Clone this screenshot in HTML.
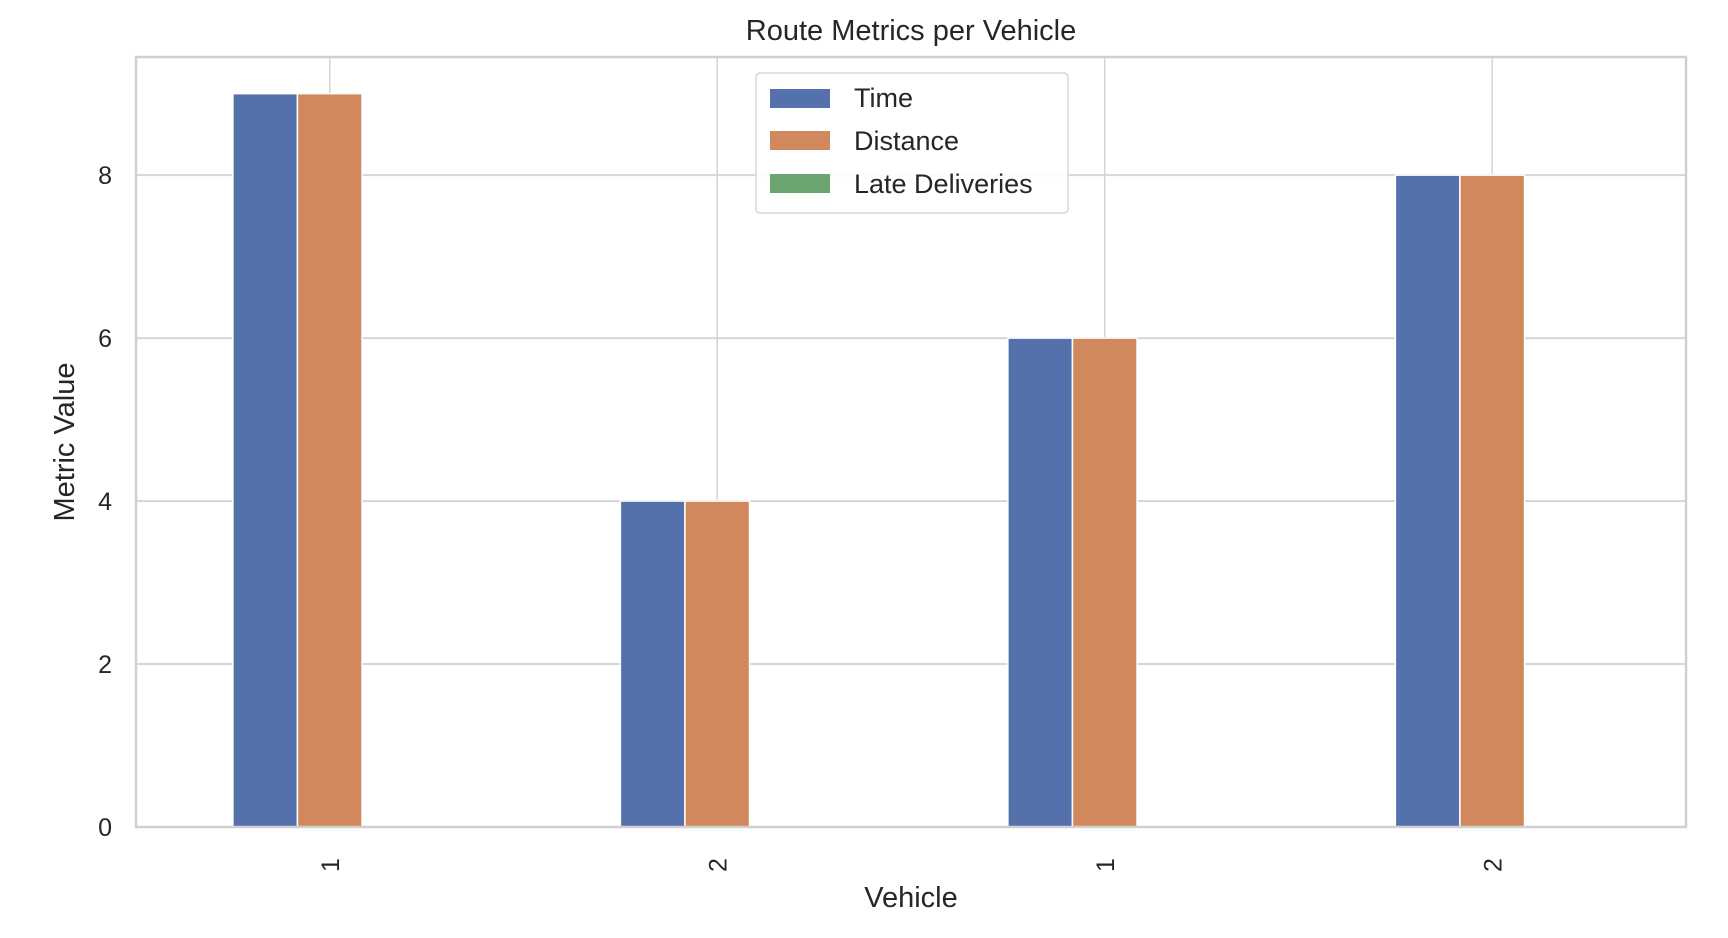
<!DOCTYPE html>
<html><head><meta charset="utf-8"><style>
html,body{margin:0;padding:0;background:#fff;}
svg{display:block;font-family:"Liberation Sans",Arial,sans-serif;}
</style></head><body>
<svg id="chart" width="1728" height="938">
<g id="grid"></g><g id="bars"></g><g id="axes"></g>
<text x="911" y="40" text-anchor="middle" font-size="29" fill="#262626">Route Metrics per Vehicle</text>
<text x="911" y="907" text-anchor="middle" font-size="29" fill="#262626">Vehicle</text>
<text transform="translate(74,442) rotate(-90)" text-anchor="middle" font-size="29" fill="#262626">Metric Value</text>
<g>
<rect x="756" y="73" width="312" height="140" rx="4" fill="#fff" fill-opacity="0.9" stroke="#d8d8d8" stroke-width="1.5"/>
<rect x="770" y="89" width="60" height="19" fill="#5471ab"/>
<text x="854" y="107" font-size="27" fill="#262626">Time</text>
<rect x="770" y="131" width="60" height="19" fill="#d1885c"/>
<text x="854" y="150" font-size="27" fill="#262626">Distance</text>
<rect x="770" y="174" width="60" height="19" fill="#6aa56e"/>
<text x="854" y="193" font-size="27" fill="#262626">Late Deliveries</text>
</g>
</svg>
<script>
const categories = ["1","2","1","2"];
const timeValues = [9,4,6,8];
const distanceValues = [9,4,6,8];
const lateValues = [0,0,0,0];
const yTicks = [0,2,4,6,8];
const seriesNames = ["Time","Distance","Late Deliveries"];
const colors = ["#5471ab","#d1885c","#6aa56e"];

const L=136,R=1686,T=57,B=827,yMax=9.45;
const NS="http://www.w3.org/2000/svg";
const gGrid=document.getElementById('grid'),gBars=document.getElementById('bars'),gAxes=document.getElementById('axes');
function y(v){return B-(v/yMax)*(B-T);}
function x(i){return L+(i+0.5)*(R-L)/categories.length;}
function mk(tag,attrs,parent){const e=document.createElementNS(NS,tag);for(const k in attrs)e.setAttribute(k,attrs[k]);parent.appendChild(e);return e;}


mk('rect',{x:L,y:T,width:R-L,height:B-T,fill:'#fff'},gGrid);
yTicks.forEach(t=>{
  const ln=mk('line',{x1:L,x2:R,y1:y(t),y2:y(t),stroke:'#d5d5d5','stroke-width':2},gGrid);
  
  
  const tx=mk('text',{x:L-24,y:y(t)+9,'text-anchor':'end','font-size':25,fill:'#262626'},gAxes);
  tx.textContent=t;
  
  
});
categories.forEach((c,i)=>{
  const ln=mk('line',{x1:x(i),x2:x(i),y1:T,y2:B,stroke:'#d5d5d5','stroke-width':1.5},gGrid);
  
  
  const tx=mk('text',{x:0,y:0,'text-anchor':'middle','font-size':25,fill:'#262626',transform:`translate(${x(i)+9},${B+38}) rotate(-90)`},gAxes);
  tx.textContent=c;
  
  
});
const series=[timeValues,distanceValues,lateValues];
const bw=(R-L)/categories.length/6;
series.forEach((vals,s)=>{
  vals.forEach((v,i)=>{
    const cx=x(i)+(s-1)*bw;
    const r=mk('rect',{x:cx-bw/2,y:y(v),width:bw,height:B-y(v),fill:colors[s],stroke:'#fff','stroke-width':1.5},gBars);
    
    
  });
});
const frame=mk('rect',{x:L,y:T,width:R-L,height:B-T,fill:'none',stroke:'#d0d0d0','stroke-width':2.5},gAxes);


</script>
</body></html>
